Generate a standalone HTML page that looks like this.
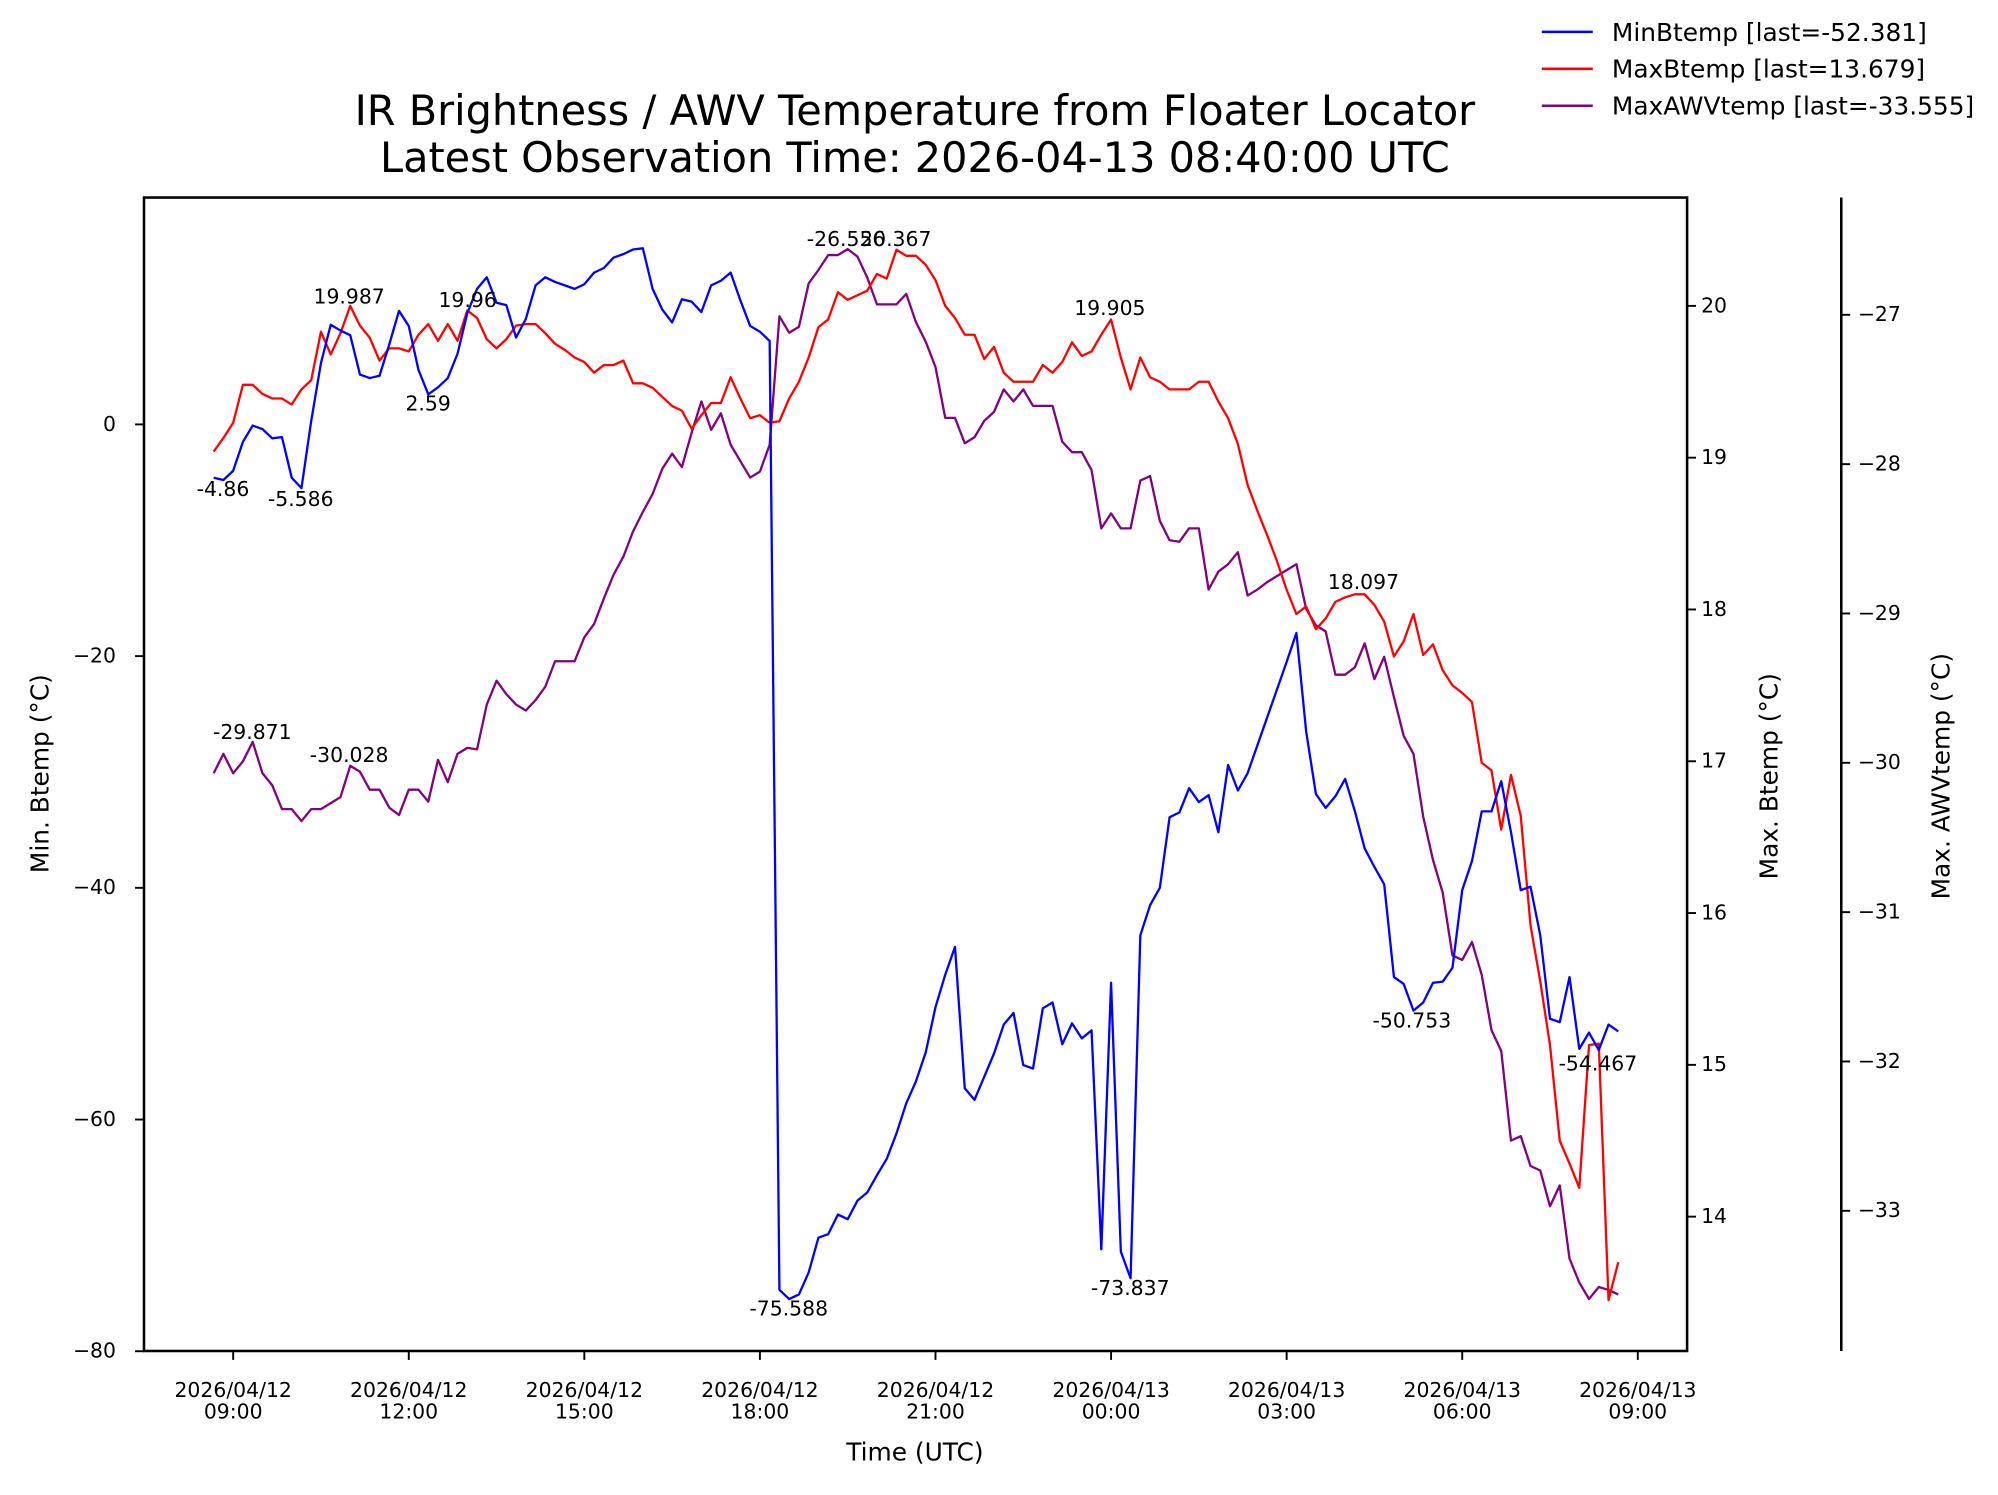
<!DOCTYPE html>
<html><head><meta charset="utf-8"><style>
html,body{margin:0;padding:0;background:#fff;}
svg{display:block;font-family:"DejaVu Sans","Liberation Sans",sans-serif;}
</style></head><body>
<svg id="chart" width="1998" height="1495" viewBox="0 0 1568 1173" preserveAspectRatio="none" xmlns="http://www.w3.org/2000/svg">
<rect x="0" y="0" width="1568" height="1173" fill="#fff"/>
<text x="718" y="98" font-size="32.5" text-anchor="middle">IR Brightness / AWV Temperature from Floater Locator</text>
<text x="718" y="135" font-size="32.5" text-anchor="middle">Latest Observation Time: 2026-04-13 08:40:00 UTC</text>
<g id="marks"></g>
<g id="axes"></g>
<rect x="113" y="155" width="1211" height="905" fill="none" stroke="#000" stroke-width="2"/>
<line x1="1445" y1="155" x2="1445" y2="1060" stroke="#000" stroke-width="2"/>
<text x="718" y="1146" font-size="19.5" text-anchor="middle">Time (UTC)</text>
<text x="38" y="607" font-size="19.5" text-anchor="middle" transform="rotate(-90 38 607)">Min. Btemp (°C)</text>
<text x="1395" y="609" font-size="19.5" text-anchor="middle" transform="rotate(-90 1395 609)">Max. Btemp (°C)</text>
<text x="1530" y="609" font-size="19.5" text-anchor="middle" transform="rotate(-90 1530 609)">Max. AWVtemp (°C)</text>
<g font-size="19.5">
<line x1="1210" y1="25" x2="1250" y2="25" stroke="#0000ff" stroke-width="2"/>
<text x="1265" y="32">MinBtemp [last=-52.381]</text>
<line x1="1210" y1="54" x2="1250" y2="54" stroke="#ff0000" stroke-width="2"/>
<text x="1265" y="61">MaxBtemp [last=13.679]</text>
<line x1="1210" y1="83" x2="1250" y2="83" stroke="#800080" stroke-width="2"/>
<text x="1265" y="90">MaxAWVtemp [last=-33.555]</text>
</g>
<g font-size="16" text-anchor="middle">
<text x="175" y="389">-4.86</text>
<text x="236" y="397">-5.586</text>
<text x="336" y="322">2.59</text>
<text x="619" y="1032">-75.588</text>
<text x="887" y="1016">-73.837</text>
<text x="1108" y="806">-50.753</text>
<text x="1254" y="840">-54.467</text>
<text x="274" y="238">19.987</text>
<text x="367" y="241">19.96</text>
<text x="703" y="193">20.367</text>
<text x="871" y="247">19.905</text>
<text x="1070" y="462">18.097</text>
<text x="198" y="580">-29.871</text>
<text x="274" y="598">-30.028</text>
<text x="664" y="193">-26.556</text>
</g>
</svg>
<script>
// 145 samples at 10-minute steps starting 2026-04-12 08:40 UTC
const startMinutes = -20; // minutes relative to 2026-04-12 09:00
const stepMinutes = 10;
const minBtemp = [-4.6,-4.8,-4.0,-1.5,-0.1,-0.4,-1.2,-1.1,-4.6,-5.5,0.3,5.3,8.6,8.1,7.7,4.3,4.0,4.2,6.9,9.8,8.5,4.7,2.6,3.2,4.0,6.1,9.6,11.7,12.7,10.5,10.3,7.5,9.1,12.0,12.7,12.3,12.0,11.7,12.1,13.1,13.5,14.4,14.7,15.1,15.2,11.7,9.9,8.8,10.8,10.6,9.7,12.0,12.4,13.1,10.7,8.5,8.0,7.2,-74.7,-75.5,-75.1,-73.2,-70.2,-69.9,-68.2,-68.6,-67.0,-66.3,-64.8,-63.4,-61.2,-58.6,-56.7,-54.2,-50.3,-47.5,-45.1,-57.3,-58.3,-56.3,-54.3,-51.8,-50.8,-55.3,-55.6,-50.4,-49.9,-53.5,-51.7,-53.0,-52.3,-71.2,-48.2,-71.4,-73.7,-44.1,-41.5,-40.0,-33.9,-33.5,-31.4,-32.6,-32.0,-35.2,-29.4,-31.6,-30.1,-27.7,-25.3,-22.9,-20.5,-18.0,-26.5,-31.9,-33.1,-32.1,-30.6,-33.4,-36.6,-38.2,-39.7,-47.7,-48.3,-50.6,-49.9,-48.2,-48.1,-46.9,-40.2,-37.7,-33.4,-33.4,-30.8,-35.2,-40.2,-39.9,-44.1,-51.3,-51.6,-47.7,-53.9,-52.5,-54.0,-51.8,-52.4];
const maxBtemp = [19.04,19.13,19.23,19.48,19.48,19.42,19.39,19.39,19.35,19.45,19.51,19.83,19.68,19.82,20.00,19.87,19.79,19.64,19.72,19.72,19.70,19.81,19.88,19.77,19.88,19.77,19.97,19.92,19.78,19.72,19.78,19.87,19.88,19.88,19.82,19.75,19.71,19.66,19.63,19.56,19.61,19.61,19.64,19.49,19.49,19.46,19.40,19.34,19.31,19.19,19.28,19.36,19.36,19.53,19.39,19.26,19.28,19.23,19.24,19.39,19.50,19.66,19.86,19.91,20.09,20.04,20.07,20.10,20.21,20.18,20.37,20.33,20.33,20.27,20.17,20.00,19.92,19.81,19.81,19.65,19.73,19.56,19.50,19.50,19.50,19.61,19.56,19.63,19.76,19.67,19.70,19.81,19.91,19.66,19.45,19.66,19.53,19.50,19.45,19.45,19.45,19.50,19.50,19.37,19.26,19.09,18.82,18.65,18.49,18.32,18.13,17.97,18.02,17.87,17.94,18.05,18.08,18.10,18.10,18.03,17.92,17.69,17.79,17.97,17.70,17.77,17.60,17.50,17.45,17.39,16.99,16.94,16.55,16.91,16.64,15.92,15.55,15.13,14.50,14.35,14.19,15.13,15.14,13.45,13.70];
const maxAwv = [-30.07,-29.94,-30.07,-29.99,-29.86,-30.07,-30.15,-30.31,-30.31,-30.39,-30.31,-30.31,-30.27,-30.23,-30.02,-30.06,-30.18,-30.18,-30.30,-30.35,-30.18,-30.18,-30.26,-29.98,-30.13,-29.94,-29.90,-29.91,-29.61,-29.45,-29.54,-29.61,-29.65,-29.58,-29.49,-29.32,-29.32,-29.32,-29.16,-29.07,-28.90,-28.74,-28.62,-28.45,-28.32,-28.20,-28.03,-27.93,-28.02,-27.79,-27.58,-27.77,-27.66,-27.87,-27.98,-28.09,-28.05,-27.87,-27.01,-27.12,-27.08,-26.79,-26.70,-26.60,-26.60,-26.56,-26.61,-26.75,-26.93,-26.93,-26.93,-26.86,-27.05,-27.18,-27.35,-27.69,-27.69,-27.86,-27.82,-27.71,-27.65,-27.50,-27.58,-27.50,-27.61,-27.61,-27.61,-27.85,-27.92,-27.92,-28.04,-28.43,-28.33,-28.43,-28.43,-28.11,-28.08,-28.38,-28.51,-28.52,-28.43,-28.43,-28.84,-28.72,-28.67,-28.59,-28.88,-28.84,-28.79,-28.75,-28.71,-28.67,-28.97,-29.08,-29.12,-29.41,-29.41,-29.36,-29.20,-29.44,-29.29,-29.56,-29.82,-29.94,-30.36,-30.65,-30.87,-31.29,-31.32,-31.20,-31.42,-31.79,-31.93,-32.53,-32.50,-32.70,-32.73,-32.97,-32.83,-33.32,-33.48,-33.59,-33.51,-33.53,-33.56];
const xTickDates = ["2026/04/12","2026/04/12","2026/04/12","2026/04/12","2026/04/12","2026/04/13","2026/04/13","2026/04/13","2026/04/13"];
const xTickTimes = ["09:00","12:00","15:00","18:00","21:00","00:00","03:00","06:00","09:00"];
const xTickHours = [0,3,6,9,12,15,18,21,24];
const leftTicks = [0,-20,-40,-60,-80];
const maxTicks = [14,15,16,17,18,19,20];
const awvTicks = [-27,-28,-29,-30,-31,-32,-33];

const NS = "http://www.w3.org/2000/svg";
function xScale(hours){ return 183 + hours*45.93; }
function yLeft(v){ return 333 - v*9.09; }
function yMax(v){ return 240 - (v-20)*119.1; }
function yAwv(v){ return 247 - (v+27)*117.17; }
function mk(tag, attrs){ const e=document.createElementNS(NS,tag); for(const k in attrs) e.setAttribute(k,attrs[k]); return e; }
const marks=document.getElementById('marks'), axes=document.getElementById('axes');

function drawSeries(vals, yfn, color, name){
  const pts = vals.map((v,i)=> xScale((startMinutes+i*stepMinutes)/60).toFixed(2)+','+yfn(v).toFixed(2)).join(' ');
  const pl = mk('polyline',{points:pts,fill:'none',stroke:color,'stroke-width':1.8,'stroke-linejoin':'round'});
  
  
  marks.appendChild(pl);
}
drawSeries(maxAwv, yAwv, '#800080', 'max-awv-temp-line');
drawSeries(maxBtemp, yMax, '#ff0000', 'max-btemp-line');
drawSeries(minBtemp, yLeft, '#0000ff', 'min-btemp-line');

xTickHours.forEach((h,i)=>{
  const x=xScale(h);
  const t=mk('line',{x1:x,y1:1060,x2:x,y2:1067,stroke:'#000','stroke-width':1.5});
  
  
  axes.appendChild(t);
  const l=mk('text',{x:x,y:1096,'font-size':16,'text-anchor':'middle'});
  
  
  const s1=mk('tspan',{x:x,dy:0}); s1.textContent=xTickDates[i];
  const s2=mk('tspan',{x:x,dy:17}); s2.textContent=xTickTimes[i];
  l.appendChild(s1); l.appendChild(s2); axes.appendChild(l);
});
leftTicks.forEach(v=>{
  const y=yLeft(v);
  const t=mk('line',{x1:106,y1:y,x2:113,y2:y,stroke:'#000','stroke-width':1.5});
  
  
  axes.appendChild(t);
  const l=mk('text',{x:91,y:y+5,'font-size':16,'text-anchor':'end'});
  
  
  l.textContent=String(v).replace('-','\u2212'); axes.appendChild(l);
});
maxTicks.forEach(v=>{
  const y=yMax(v);
  const t=mk('line',{x1:1324,y1:y,x2:1331,y2:y,stroke:'#000','stroke-width':1.5});
  
  
  axes.appendChild(t);
  const l=mk('text',{x:1335,y:y+5,'font-size':16});
  
  
  l.textContent=String(v); axes.appendChild(l);
});
awvTicks.forEach(v=>{
  const y=yAwv(v);
  const t=mk('line',{x1:1445,y1:y,x2:1452,y2:y,stroke:'#000','stroke-width':1.5});
  
  
  axes.appendChild(t);
  const l=mk('text',{x:1458,y:y+5,'font-size':16});
  
  
  l.textContent=String(v).replace('-','\u2212'); axes.appendChild(l);
});
</script>
</body></html>
